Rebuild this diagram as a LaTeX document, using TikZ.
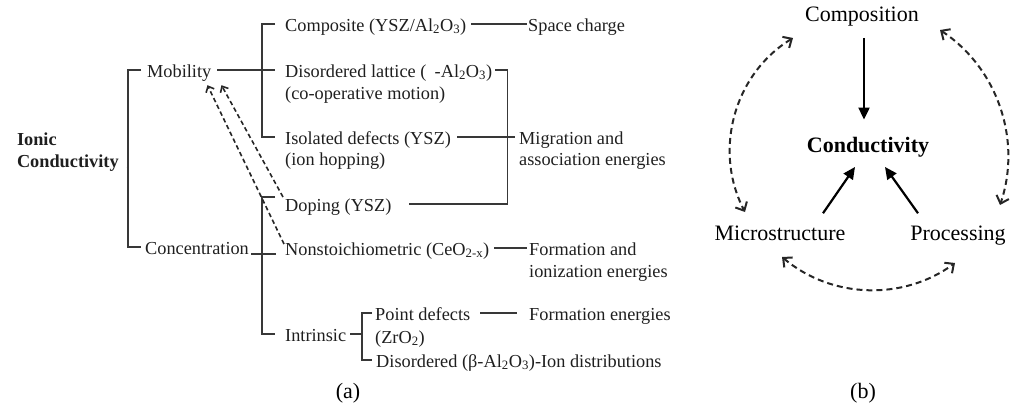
\documentclass[tikz,border=0pt]{standalone}
\usepackage{fontspec}
\setmainfont{Liberation Serif}
\usetikzlibrary{arrows.meta}
\newcommand\fsA{\fontsize{18.3}{22}\selectfont}
\newcommand\fsB{\fontsize{22}{26}\selectfont}
\begin{document}
\begin{tikzpicture}[x=1pt,y=-1pt,
  lb/.style={font=\fsA, text=black!88, inner sep=0pt, text height=14pt, text depth=0pt, anchor=west},
  rb/.style={font=\fsB, text=black, inner sep=0pt, anchor=base},
  ln/.style={draw=black!78, line width=1.3pt},
  dsh/.style={draw=black!85, line width=1.6pt, dash pattern=on 4.5pt off 3pt, -{Straight Barb[length=5pt,width=9pt]}},
  sa/.style={draw=black, line width=2.2pt, -{Triangle[length=12pt,width=11pt]}},
  da/.style={draw=black!85, line width=2pt, dash pattern=on 6pt off 4pt, {Straight Barb[length=7pt,width=13pt]}-{Straight Barb[length=7pt,width=13pt]}}]
\useasboundingbox (0,0) rectangle (1014,408);

% ---------- (a) ----------
\node[font=\fsA\bfseries, text=black!88, inner sep=0pt, outer xsep=8pt, anchor=base west, align=left] (ionic) at (9,167) {Ionic\\Conductivity};
\node[lb] (mob) at (147,70) {Mobility};
\node[lb] (conc) at (145,247) {Concentration};
\node[lb] (comp) at (285,24) {Composite (YSZ/Al\textsubscript{2}O\textsubscript{3})};
\node[lb] (space) at (528,24) {Space charge};
\node[lb] (dis) at (285,70) {Disordered lattice (\hspace{0.45em}-Al\textsubscript{2}O\textsubscript{3})};
\node[lb] (coop) at (285,92) {(co-operative motion)};
\node[lb] (iso) at (285,137) {Isolated defects (YSZ)};
\node[lb] (hop) at (285,158) {(ion hopping)};
\node[lb] (mig) at (519,137) {Migration and};
\node[lb] (assoc) at (519,158) {association energies};
\node[lb] (dop) at (285,204) {Doping (YSZ)};
\node[lb] (non) at (285,248) {Nonstoichiometric (CeO\textsubscript{2-x})};
\node[lb] (form) at (529,248) {Formation and};
\node[lb] (ioniz) at (529,270) {ionization energies};
\node[lb] (intr) at (285,334) {Intrinsic};
\node[lb] (pd) at (375,313) {Point defects};
\node[lb] (fe) at (529,313) {Formation energies};
\node[lb] (zro) at (375,336) {(ZrO\textsubscript{2})};
\node[lb] (disb) at (376,360) {Disordered (β-Al\textsubscript{2}O\textsubscript{3})-Ion distributions};

\coordinate (jA) at (128,168);
\draw[ln] (ionic.east |- jA) -- (jA);
\draw[ln] ([xshift=-6pt]mob.west) -| ([xshift=-17pt]conc.west) -- ([xshift=-4pt]conc.west);
\draw[ln] ([xshift=6pt]mob.east) -- ([xshift=-10pt]dis.west);
\draw[ln] ([xshift=-10pt]comp.west) -| ([xshift=-23pt]iso.west) -- ([xshift=-10pt]iso.west);
\draw[ln] ([xshift=5pt]comp.east) -- ([xshift=-1pt]space.west);
\draw[ln] ([xshift=3pt]dis.east) -| ([xshift=116pt]dop.east) -- ([xshift=17pt]dop.east);
\draw[ln] ([xshift=6pt]iso.east) -- ([xshift=-4pt]mig.west);
\draw[ln] ([xshift=2pt,yshift=-7pt]conc.east) -- ++(25,0);
\draw[ln] ([xshift=-10pt,yshift=7pt]dop.west) -| ([xshift=-23pt]intr.west) -- ([xshift=-10pt]intr.west);
\draw[ln] ([xshift=5pt]non.east) -- ([xshift=-2pt]form.west);
\draw[ln] ([xshift=4pt]intr.east) -- ([xshift=-13pt]pd.west |- intr.east);
\draw[ln] ([xshift=-3pt]pd.west) -| ([xshift=-14pt]disb.west) -- ([xshift=-4pt]disb.west);
\draw[ln] ([xshift=10pt]pd.east) -- ([xshift=-12pt]fe.west);

\draw[dsh] ([shift={(-1pt,4pt)}]non.west) -- ([shift={(-4pt,-8pt)}]mob.south east);
\draw[dsh] ([shift={(-2pt,7pt)}]dop.west) -- ([shift={(10pt,-8pt)}]mob.south east);

\node[rb] (la) at (348,398) {(a)};

% ---------- (b) ----------
\node[rb] (compo) at (862,21) {Composition};
\node[rb, font=\fsB\bfseries] (cond) at (868,152) {Conductivity};
\node[rb] (micro) at (780,240) {Microstructure};
\node[rb] (proc) at (958,240) {Processing};

\draw[sa] ([xshift=2pt,yshift=-12pt]compo.south) -- ([xshift=-4pt,yshift=17pt]cond.north);
\draw[sa] ([shift={(43pt,12pt)}]micro.north) -- ([shift={(-13pt,-10pt)}]cond.south);
\draw[sa] ([shift={(-40pt,12pt)}]proc.north) -- ([shift={(17pt,-10pt)}]cond.south);

\coordinate (l1) at (793,38);  \coordinate (l2) at (745,212);
\coordinate (r1) at (940,30);  \coordinate (r2) at (1000,205);
\coordinate (b1) at (782,257); \coordinate (b2) at (955,263);
\draw[da] (l1) .. controls (734,74) and (713,150.5) .. (l2);
\draw[da] (r1) .. controls (997.5,68) and (1022,140) .. (r2);
\draw[da] (b1) .. controls (831.4,298.6) and (903,301) .. (b2);

\node[rb] (lb) at (863,398) {(b)};
\end{tikzpicture}
\end{document}
